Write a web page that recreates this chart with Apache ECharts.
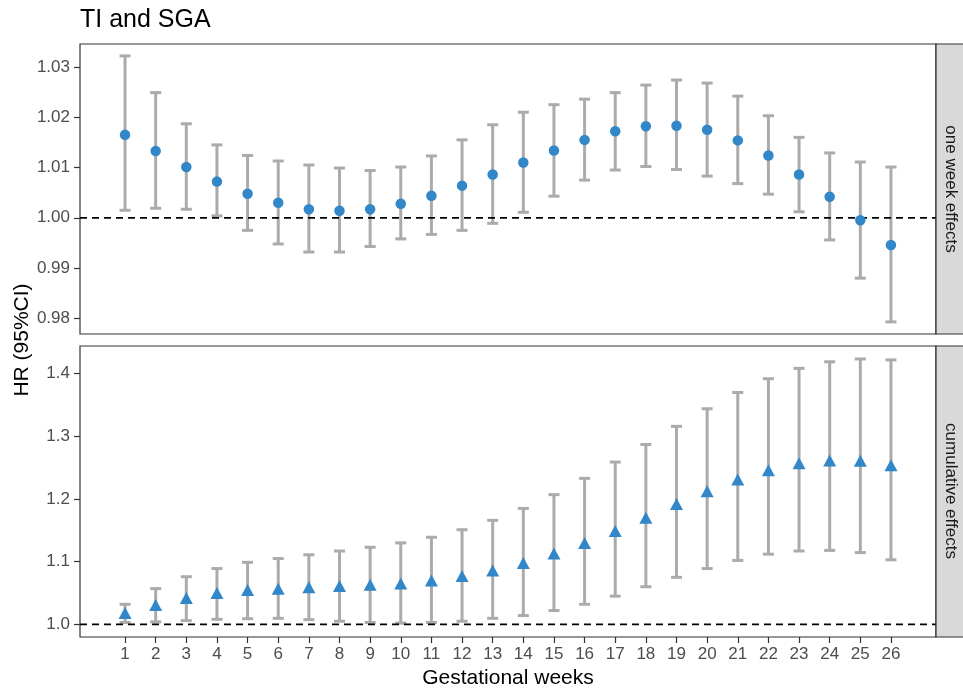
<!DOCTYPE html>
<html>
<head>
<meta charset="utf-8">
<script src="https://cdn.jsdelivr.net/npm/echarts@6/dist/echarts.min.js"></script>
<style>
html,body{margin:0;padding:0;background:#fff;}
#chart{width:963px;height:690px;}
</style>
</head>
<body>
<div id="chart"></div>
<script>
// ---- Data ----
const weeks = [1,2,3,4,5,6,7,8,9,10,11,12,13,14,15,16,17,18,19,20,21,22,23,24,25,26];

const oneWeekHR    = [1.0165,1.0133,1.0101,1.0072,1.0048,1.0030,1.0017,1.0014,1.0017,1.0028,1.0044,1.0064,1.0086,1.0110,1.0134,1.0155,1.0172,1.0182,1.0183,1.0175,1.0154,1.0124,1.0086,1.0042,0.9995,0.9946];
const oneWeekLower = [1.0015,1.0019,1.0017,1.0004,0.9975,0.9948,0.9932,0.9932,0.9943,0.9958,0.9967,0.9975,0.9989,1.0011,1.0043,1.0075,1.0095,1.0102,1.0096,1.0083,1.0068,1.0047,1.0012,0.9956,0.9880,0.9793];
const oneWeekUpper = [1.0322,1.0249,1.0187,1.0145,1.0124,1.0113,1.0105,1.0099,1.0094,1.0101,1.0123,1.0155,1.0185,1.0210,1.0225,1.0236,1.0249,1.0264,1.0274,1.0268,1.0242,1.0203,1.0160,1.0129,1.0111,1.0101];

const cumHR    = [1.018,1.031,1.042,1.050,1.055,1.057,1.059,1.061,1.063,1.065,1.070,1.077,1.086,1.098,1.113,1.130,1.149,1.170,1.192,1.2125,1.231,1.246,1.257,1.2615,1.261,1.254];
const cumLower = [1.003,1.004,1.006,1.008,1.009,1.0096,1.0075,1.005,1.003,1.002,1.003,1.005,1.0096,1.014,1.022,1.032,1.045,1.060,1.075,1.089,1.102,1.112,1.117,1.118,1.1145,1.103];
const cumUpper = [1.032,1.057,1.076,1.089,1.099,1.105,1.111,1.117,1.123,1.130,1.139,1.151,1.166,1.185,1.207,1.233,1.259,1.287,1.316,1.344,1.370,1.392,1.4085,1.419,1.4235,1.422];

const topTicks = [0.98,0.99,1.00,1.01,1.02,1.03];
const bottomTicks = [1.0,1.1,1.2,1.3,1.4];
const refValue = 1;

const panelLabels = ['one week effects','cumulative effects'];
const titleText = 'TI and SGA';
const yTitle = 'HR (95%CI)';
const xTitle = 'Gestational weeks';

// ---- Chart ----
const FONT = '"Liberation Sans", Arial, Helvetica, sans-serif';
const BLUE = '#3287c9';
const GREY = '#ababab';
const AXIS = '#333333';
const XMIN = -0.47, XMAX = 27.47;
const YMIN = [0.97689, 0.9798], YMAX = [1.03457, 1.4442];
const TICK = 6;

const chart = echarts.init(document.getElementById('chart'), null, {renderer:'canvas'});

function errRender(params, api) {
  const x = api.value(0);
  const lo = api.coord([x, api.value(1)]);
  const hi = api.coord([x, api.value(2)]);
  const l = api.coord([x - 0.18, api.value(1)]);
  const r = api.coord([x + 0.18, api.value(1)]);
  const style = {stroke: GREY, lineWidth: 3, lineCap: 'butt'};
  return {
    type: 'group',
    children: [
      {type:'line', shape:{x1:lo[0], y1:lo[1], x2:hi[0], y2:hi[1]}, style},
      {type:'line', shape:{x1:l[0], y1:hi[1], x2:r[0], y2:hi[1]}, style},
      {type:'line', shape:{x1:l[0], y1:lo[1], x2:r[0], y2:lo[1]}, style}
    ]
  };
}

const grids = [
  {left:80, top:44, width:856, height:290, show:true, borderColor:AXIS, borderWidth:1.2, backgroundColor:'#fff'},
  {left:80, top:346, width:856, height:291, show:true, borderColor:AXIS, borderWidth:1.2, backgroundColor:'#fff'}
];

function xAxisDef(i, showLabels) {
  return {
    type:'value', gridIndex:i, min:XMIN, max:XMAX, position:'bottom',
    axisLine:{show:false, onZero:false}, splitLine:{show:false},
    axisTick:{show:showLabels, inside:false, length:TICK, customValues:weeks, lineStyle:{color:AXIS, width:1.2}},
    axisLabel:{show:showLabels, customValues:weeks, color:'#4d4d4d', fontSize:17, fontFamily:FONT, margin:9,
      formatter: v => String(v)}
  };
}

function yAxisDef(i, ticks, dec) {
  return {
    type:'value', gridIndex:i, min:YMIN[i], max:YMAX[i], position:'left',
    axisLine:{show:false, onZero:false}, splitLine:{show:false},
    axisTick:{show:true, inside:false, length:TICK, customValues:ticks, lineStyle:{color:AXIS, width:1.2}},
    axisLabel:{customValues:ticks, color:'#4d4d4d', fontSize:17, fontFamily:FONT, margin:10,
      formatter: v => Number(v).toFixed(dec)}
  };
}

const series = [];
[[oneWeekHR, oneWeekLower, oneWeekUpper, 'circle', 10.5],
 [cumHR, cumLower, cumUpper, 'triangle', [13,12]]].forEach((s, i) => {
  const [hr, lo, up, sym, size] = s;
  series.push({
    type:'custom', xAxisIndex:i, yAxisIndex:i, z:2, silent:true,
    renderItem: errRender,
    data: weeks.map((w, k) => [w, lo[k], up[k]])
  });
  series.push({
    type:'line', xAxisIndex:i, yAxisIndex:i, z:3, silent:true, symbol:'none',
    lineStyle:{color:'#000', width:1.8, type:[7,5]},
    data:[[XMIN, refValue],[XMAX, refValue]]
  });
  series.push({
    type:'scatter', xAxisIndex:i, yAxisIndex:i, z:4, silent:true,
    symbol:sym, symbolSize:size, itemStyle:{color:BLUE, opacity:1},
    data: weeks.map((w, k) => [w, hr[k]])
  });
});

const staticGraphics = [
  {type:'text', x:80, y:20, style:{text:titleText, font:'25px '+FONT, fill:'#000', align:'left', verticalAlign:'middle'}},
  {type:'text', x:22, y:340, rotation:Math.PI/2, style:{text:yTitle, font:'21px '+FONT, fill:'#000', align:'center', verticalAlign:'middle'}},
  {type:'text', x:508, y:678, style:{text:xTitle, font:'21px '+FONT, fill:'#000', align:'center', verticalAlign:'middle'}},
  {type:'rect', z:10, shape:{x:936, y:44, width:30, height:290}, style:{fill:'#d9d9d9', stroke:AXIS, lineWidth:1.2}},
  {type:'rect', z:10, shape:{x:936, y:346, width:30, height:291}, style:{fill:'#d9d9d9', stroke:AXIS, lineWidth:1.2}},
  {type:'text', z:11, x:951, y:189, rotation:-Math.PI/2, style:{text:panelLabels[0], font:'17px '+FONT, fill:'#1a1a1a', align:'center', verticalAlign:'middle'}},
  {type:'text', z:11, x:951, y:491, rotation:-Math.PI/2, style:{text:panelLabels[1], font:'17px '+FONT, fill:'#1a1a1a', align:'center', verticalAlign:'middle'}}
];

chart.setOption({
  animation:false,
  backgroundColor:'#fff',
  grid: grids,
  xAxis: [xAxisDef(0, false), xAxisDef(1, true)],
  yAxis: [yAxisDef(0, topTicks, 2), yAxisDef(1, bottomTicks, 1)],
  series,
  graphic: staticGraphics
});
</script>
</body>
</html>
